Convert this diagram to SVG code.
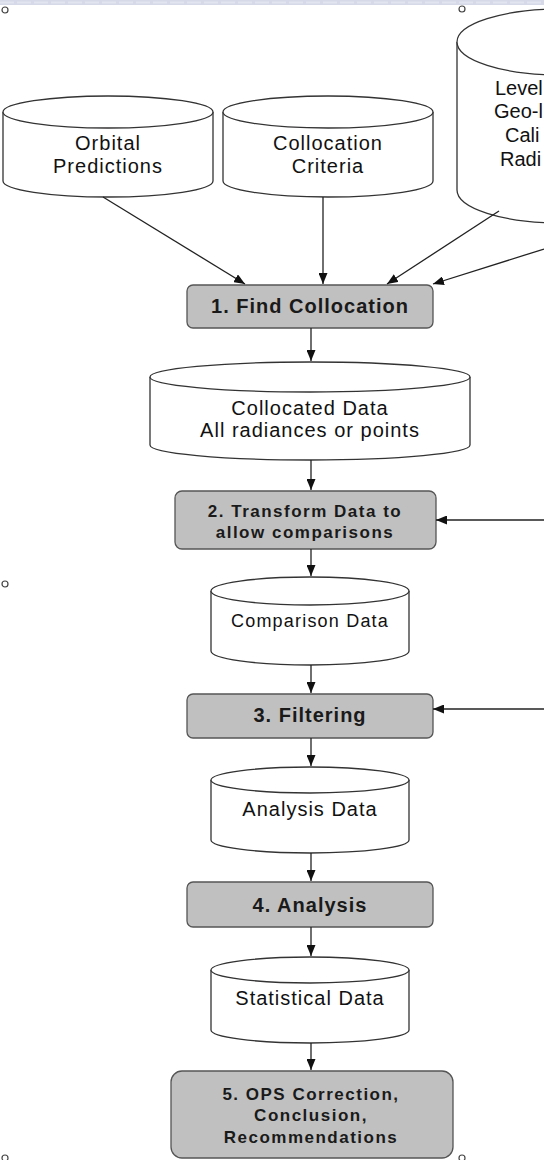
<svg xmlns="http://www.w3.org/2000/svg" width="544" height="1160" viewBox="0 0 544 1160">
<defs>
<marker id="ah" markerUnits="userSpaceOnUse" markerWidth="11" markerHeight="9" refX="11" refY="4.5" orient="auto">
<path d="M0,0 L11,4.5 L0,9 z" fill="#111"/>
</marker>
<style>
.cyl{fill:#fff;stroke:#333;stroke-width:1.3}
.box{fill:#c0c0c0;stroke:#555;stroke-width:1.3}
.ct{font-family:"Liberation Sans",Arial,sans-serif;font-size:20px;letter-spacing:1px;fill:#111;text-anchor:middle}
.rt{text-anchor:start;letter-spacing:0px}
.bt{font-family:"Liberation Sans",Arial,sans-serif;font-weight:bold;font-size:20px;letter-spacing:1px;fill:#1a1a1a;text-anchor:middle}
.bs{font-size:17px;letter-spacing:1.5px}
.con line{stroke:#222;stroke-width:1.3;marker-end:url(#ah)}
.hd{fill:#fff;stroke:#444;stroke-width:1.2}
</style>
</defs>
<rect x="0" y="0" width="544" height="1160" fill="#fff"/>
<rect x="0" y="0" width="544" height="5" fill="#d5d9e8"/>
<line x1="0" y1="2.5" x2="544" y2="2.5" stroke="#e2e5f0" stroke-width="2" stroke-dasharray="14 3"/>

<g id="orbital">
<path class="cyl" d="M3,112 L3,181 A105,16 0 0 0 213,181 L213,112"/>
<ellipse class="cyl" cx="108" cy="112" rx="105" ry="16"/>
<text class="ct" x="108" y="150">Orbital</text>
<text class="ct" x="108" y="173">Predictions</text>
</g>
<g id="criteria">
<path class="cyl" d="M223,112 L223,181 A105,16 0 0 0 433,181 L433,112"/>
<ellipse class="cyl" cx="328" cy="112" rx="105" ry="16"/>
<text class="ct" x="328" y="150">Collocation</text>
<text class="ct" x="328" y="173">Criteria</text>
</g>
<g id="level">
<path class="cyl" d="M457,42 L457,190 A103,33 0 0 0 663,190 L663,42"/>
<ellipse class="cyl" cx="560" cy="42" rx="103" ry="33"/>
<text class="ct rt" x="495" y="95">Level</text>
<text class="ct rt" x="494" y="118">Geo-l</text>
<text class="ct rt" x="505" y="142">Cali</text>
<text class="ct rt" x="500" y="166">Radi</text>
</g>

<g id="step1">
<rect class="box" x="187" y="285" width="246" height="43" rx="6"/>
<text class="bt" x="310" y="313">1. Find Collocation</text>
</g>
<g id="collocated">
<path class="cyl" d="M150,377 L150,445 A160,15 0 0 0 470,445 L470,377"/>
<ellipse class="cyl" cx="310" cy="377" rx="160" ry="15"/>
<text class="ct" x="310" y="415">Collocated Data</text>
<text class="ct" x="310" y="437">All radiances or points</text>
</g>
<g id="step2">
<rect class="box" x="175" y="491" width="261" height="58" rx="7"/>
<text class="bt bs" x="305" y="517">2. Transform Data to</text>
<text class="bt bs" x="305" y="538">allow comparisons</text>
</g>
<g id="comparison">
<path class="cyl" d="M211,591 L211,651 A99,14 0 0 0 409,651 L409,591"/>
<ellipse class="cyl" cx="310" cy="591" rx="99" ry="14"/>
<text class="ct" style="font-size:18px;letter-spacing:1.2px" x="310" y="627">Comparison Data</text>
</g>
<g id="step3">
<rect class="box" x="187" y="694" width="246" height="44" rx="6"/>
<text class="bt" x="310" y="722">3. Filtering</text>
</g>
<g id="analysisdata">
<path class="cyl" d="M211,780 L211,840 A99,13 0 0 0 409,840 L409,780"/>
<ellipse class="cyl" cx="310" cy="780" rx="99" ry="13"/>
<text class="ct" x="310" y="816">Analysis Data</text>
</g>
<g id="step4">
<rect class="box" x="187" y="882" width="246" height="45" rx="6"/>
<text class="bt" x="310" y="912">4. Analysis</text>
</g>
<g id="statistical">
<path class="cyl" d="M211,970 L211,1030 A99,13 0 0 0 409,1030 L409,970"/>
<ellipse class="cyl" cx="310" cy="970" rx="99" ry="13"/>
<text class="ct" x="310" y="1005">Statistical Data</text>
</g>
<g id="step5">
<rect class="box" x="171" y="1071" width="282" height="87" rx="11"/>
<text class="bt bs" x="311" y="1100">5. OPS Correction,</text>
<text class="bt bs" x="311" y="1121">Conclusion,</text>
<text class="bt bs" x="311" y="1143">Recommendations</text>
</g>

<g id="connectors" class="con">
<line x1="103" y1="197" x2="245" y2="284"/>
<line x1="323" y1="197" x2="323" y2="284"/>
<line x1="499" y1="211" x2="387" y2="284"/>
<line x1="544" y1="249" x2="433" y2="284"/>
<line x1="311" y1="328" x2="311" y2="361"/>
<line x1="311" y1="460" x2="311" y2="490"/>
<line x1="544" y1="520" x2="436" y2="520"/>
<line x1="311" y1="549" x2="311" y2="576"/>
<line x1="311" y1="665" x2="311" y2="693"/>
<line x1="544" y1="709" x2="433" y2="709"/>
<line x1="311" y1="738" x2="311" y2="766"/>
<line x1="311" y1="853" x2="311" y2="881"/>
<line x1="311" y1="927" x2="311" y2="956"/>
<line x1="311" y1="1043" x2="311" y2="1070"/>
</g>

<g id="handles">
<circle class="hd" cx="5" cy="10" r="3"/>
<circle class="hd" cx="462" cy="9" r="3"/>
<circle class="hd" cx="5" cy="584" r="3"/>
<circle class="hd" cx="5" cy="1158" r="3"/>
<circle class="hd" cx="462" cy="1158" r="3"/>
</g>
</svg>
